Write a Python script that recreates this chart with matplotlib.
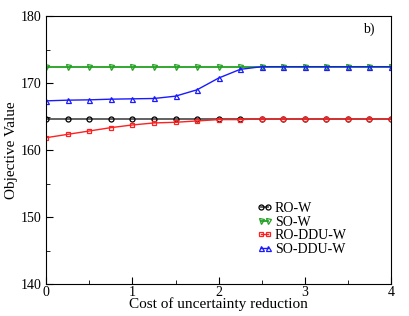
import numpy as np
import matplotlib.pyplot as plt

plt.rcParams['font.family'] = ['Liberation Serif', 'DejaVu Serif']

cost = [0, 0.25, 0.5, 0.75, 1.0, 1.25, 1.5, 1.75, 2.0, 2.25, 2.5, 2.75, 3.0, 3.25, 3.5, 3.75, 4.0]
ro_w = [164.7] * 17
so_w = [172.5] * 17
ro_ddu_w = [161.9, 162.4, 162.9, 163.4, 163.8, 164.1, 164.2, 164.4, 164.6, 164.6,
            164.7, 164.7, 164.7, 164.7, 164.7, 164.7, 164.7]
so_ddu_w = [167.4, 167.5, 167.55, 167.65, 167.7, 167.75, 168.1, 169.05, 170.8, 172.1,
            172.5, 172.5, 172.5, 172.5, 172.5, 172.5, 172.5]

fig = plt.figure(figsize=(4.09, 3.16), dpi=100)
ax = fig.add_axes([0.113, 0.10, 0.843, 0.848])

ms = 3.6
ax.plot(cost, ro_w, color='#555555', lw=1.3, marker='o', ms=ms, mfc='none', mec='black', mew=0.9, label='RO-W')
ax.plot(cost, so_w, color='#22a022', lw=1.3, marker='v', ms=ms, mfc='none', mec='#22a022', mew=0.9, label='SO-W')
ax.plot(cost, ro_ddu_w, color='#ff2020', lw=1.0, marker='s', ms=ms - 0.6, mfc='none', mec='#ff2020', mew=0.9, label='RO-DDU-W')
ax.plot(cost, so_ddu_w, color='#1a1aff', lw=1.0, marker='^', ms=ms, mfc='none', mec='#1a1aff', mew=0.9, label='SO-DDU-W')

ax.set_xlim(0, 4)
ax.set_ylim(140, 180)
ax.set_xticks([0, 1, 2, 3, 4])
ax.set_xticks(np.arange(0, 4.01, 0.5), minor=True)
ax.set_yticks([140, 150, 160, 170, 180])
ax.set_yticks(np.arange(140, 180.1, 5), minor=True)
ax.tick_params(which='both', direction='in', labelsize=10)
ax.tick_params(which='major', length=5)
ax.tick_params(which='minor', length=3)
ax.tick_params(axis='x', pad=1)

ax.set_xlabel('Cost of uncertainty reduction', fontsize=11, labelpad=-1)
ax.set_ylabel('Objective Value', fontsize=11, labelpad=2)
ax.text(0.92, 0.94, 'b)', transform=ax.transAxes, fontsize=10)

ax.legend(loc='lower left', bbox_to_anchor=(0.59, 0.08), frameon=False, numpoints=2,
          handlelength=1.1, handletextpad=0.2, labelspacing=0.05, fontsize=10, borderpad=0)

fig.savefig('out.png', dpi=100)
